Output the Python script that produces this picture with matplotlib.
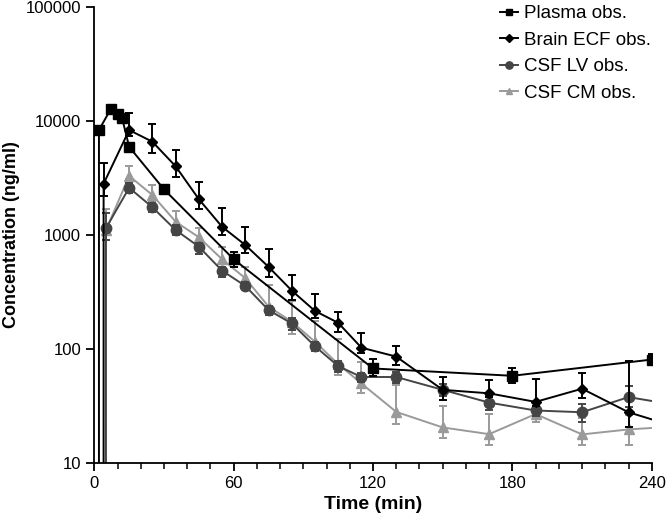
import numpy as np
import matplotlib
matplotlib.use('Agg')
import matplotlib.pyplot as plt
from matplotlib.ticker import MultipleLocator, FixedLocator, NullLocator

plt.rcParams['font.family'] = ['Liberation Sans', 'DejaVu Sans']

# sampling times (min); t=0 is the pre-dose value (0, below the log axis)
plasma_t = [0, 2, 7, 10, 12, 15, 30, 60, 120, 180, 240]
plasma = [0, 8300, 12600, 11450, 10500, 5920, 2510, 613, 67.7, 58.4, 81]
plasma_lo = [0, 0, 0, 0, 0, 300, 0, 86, 10, 8, 9]
plasma_hi = [0, 0, 0, 0, 0, 300, 0, 100, 14, 10, 10]

ecf_t = [0, 4, 15, 25, 35, 45, 55, 65, 75, 85, 95, 105, 115, 130, 150, 170, 190, 210, 230, 250]
csf_t = [0, 5, 15, 25, 35, 45, 55, 65, 75, 85, 95, 105, 115, 130, 150, 170, 190, 210, 230, 250]

ecf = [0, 2810, 8300, 6560, 4000, 2060, 1180, 817, 526, 326, 216, 170, 103, 86, 44, 41, 34.5, 45, 28, 21]
ecf_lo = [0, 600, 1000, 1300, 760, 370, 190, 126, 100, 58, 29, 29, 10, 13, 8, 3, 3, 8, 7, 0]
ecf_hi = [0, 1490, 3500, 2820, 1550, 870, 530, 350, 228, 118, 86, 42, 36, 20, 13, 13, 20, 17, 50, 0]

lv = [0, 1145, 2590, 1750, 1106, 790, 487, 358, 220, 168, 106, 71, 57, 57, 44, 34, 29, 28, 38, 32.5]
lv_lo = [0, 240, 270, 150, 100, 108, 61, 24, 20, 20, 10, 8, 5, 6, 5, 5, 3, 5, 7, 0]
lv_hi = [0, 400, 250, 150, 110, 66, 40, 32, 20, 20, 10, 8, 5, 6, 5, 5, 3, 5, 10, 0]

cm = [0, 1100, 3290, 2240, 1308, 955, 613, 418, 236, 174, 116, 74, 50, 28.2, 20.6, 18, 27, 17.9, 19.8, 21]
cm_lo = [0, 200, 200, 250, 100, 80, 60, 40, 25, 37, 15, 15, 9, 6, 4, 3.6, 4, 3.5, 5.4, 0]
cm_hi = [0, 580, 730, 500, 315, 190, 167, 103, 127, 90, 60, 48, 27, 20, 11, 9, 1.5, 6.8, 6.6, 0]

fig = plt.figure(figsize=(6.67, 5.17), dpi=100)
ax = fig.add_axes([0.1414, 0.1039, 0.8357, 0.8832])
ax.set_yscale('log', nonpositive='clip')

series = [
    (csf_t, cm, cm_lo, cm_hi, '#9a9a9a', '^', 7, 'CSF CM obs.'),
    (csf_t, lv, lv_lo, lv_hi, '#454545', 'o', 7.5, 'CSF LV obs.'),
    (ecf_t, ecf, ecf_lo, ecf_hi, '#000000', 'D', 5.5, 'Brain ECF obs.'),
    (plasma_t, plasma, plasma_lo, plasma_hi, '#000000', 's', 7, 'Plasma obs.'),
]
handles = {}
for t, y, lo, hi, c, m, ms, lab in series:
    ax.errorbar(t, y, yerr=[lo, hi], fmt='none', ecolor=c, elinewidth=1.4, capsize=3, capthick=1.4)
    ln, = ax.plot(t, y, color=c, marker=m, markersize=ms, lw=1.4, label=lab)
    handles[lab] = ln

ax.set_xlim(0, 240)
ax.set_ylim(10, 100000)
ax.xaxis.set_major_locator(MultipleLocator(60))
ax.xaxis.set_minor_locator(MultipleLocator(10))
ax.yaxis.set_major_locator(FixedLocator([10, 100, 1000, 10000, 100000]))
ax.yaxis.set_minor_locator(NullLocator())
ax.set_yticklabels(['10', '100', '1000', '10000', '100000'])
for s in ['top', 'right']:
    ax.spines[s].set_visible(False)
for s in ['left', 'bottom']:
    ax.spines[s].set_linewidth(1.3)
ax.tick_params(which='major', direction='out', length=6, width=1.3, labelsize=12)
ax.tick_params(which='minor', direction='out', length=4, width=1.1)

ax.set_xlabel('Time (min)', fontsize=14, fontweight='bold', labelpad=3)
ax.set_ylabel('Concentration (ng/ml)', fontsize=13, fontweight='bold', labelpad=4)

order = ['Plasma obs.', 'Brain ECF obs.', 'CSF LV obs.', 'CSF CM obs.']
ax.legend([handles[k] for k in order], order, loc='upper left', bbox_to_anchor=(0.735, 1.008),
          bbox_transform=fig.transFigure, frameon=False, fontsize=13.5, handlelength=1.0,
          handletextpad=0.3, labelspacing=0.5, markerscale=0.7, borderaxespad=0.1)

fig.savefig('out.png', dpi=100)
